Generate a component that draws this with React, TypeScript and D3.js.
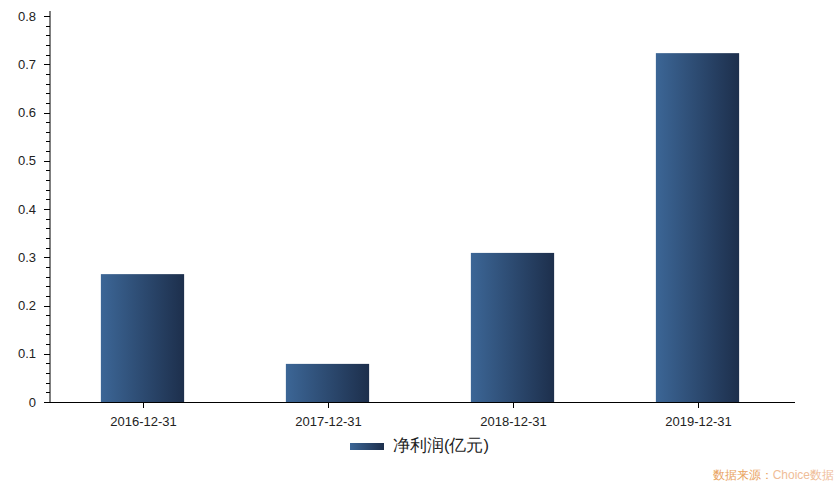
import React from "react";
import * as d3 from "d3";

const categories = ["2016-12-31", "2017-12-31", "2018-12-31", "2019-12-31"];
const netProfit = [0.265, 0.079, 0.309, 0.723];
const yTicks = [0, 0.1, 0.2, 0.3, 0.4, 0.5, 0.6, 0.7, 0.8];
const seriesName = "净利润(亿元)";
const sourceLabel = "数据来源：";
const sourceName = "Choice数据";

const W = 839;
const H = 482;
const left = 50;
const right = 790;
const top = 16;
const bottom = 402;

export default function App() {
  const x = d3.scaleBand<string>().domain(categories).range([left, right]).paddingInner(0).paddingOuter(0);
  const y = d3.scaleLinear().domain([0, 0.8]).range([bottom, top]);
  const barW = x.bandwidth() * 0.45;
  const minor = d3.range(0, 0.8 + 1e-9, 0.02).filter((v) => Math.abs(v * 10 - Math.round(v * 10)) > 1e-6);
  const font = "'Liberation Sans', Arial, sans-serif";

  return (
    <svg
      width={W}
      height={H}
      style={{ position: "absolute", left: 0, top: 0, background: "#fff" }}
      fontFamily={font}
    >
      <defs>
        <linearGradient id="barGrad" x1="0" x2="1" y1="0" y2="0">
          <stop offset="0%" stopColor="#3c6696" />
          <stop offset="100%" stopColor="#1d2f4c" />
        </linearGradient>
      </defs>
      <rect x={0} y={0} width={W} height={H} fill="#fff" />

      {netProfit.map((v, i) => {
        const cx = x(categories[i])! + x.bandwidth() / 2;
        return (
          <rect
            key={categories[i]}
            x={cx - barW / 2}
            y={y(v)}
            width={barW}
            height={y(0) - y(v)}
            fill="url(#barGrad)"
          />
        );
      })}

      {/* y axis */}
      <line x1={left} x2={left} y1={11} y2={bottom} stroke="#000" strokeWidth={1} />
      {minor.map((v) => (
        <line key={"m" + v} x1={left - 4} x2={left} y1={Math.round(y(v)) + 0.5} y2={Math.round(y(v)) + 0.5} stroke="#000" />
      ))}
      {yTicks.map((v) => (
        <g key={"t" + v}>
          <line x1={left - 6} x2={left} y1={Math.round(y(v)) + 0.5} y2={Math.round(y(v)) + 0.5} stroke="#000" />
          <text x={36} y={y(v)} dy="0.35em" textAnchor="end" fontSize={13} fill="#222">
            {d3.format("")(Number(v.toFixed(1)))}
          </text>
        </g>
      ))}

      {/* x axis */}
      <line x1={left} x2={795} y1={bottom + 0.5} y2={bottom + 0.5} stroke="#000" />
      {categories.map((c) => {
        const cx = Math.round(x(c)! + x.bandwidth() / 2) + 0.5;
        return (
          <g key={c}>
            <line x1={cx} x2={cx} y1={bottom} y2={bottom + 6} stroke="#000" />
            <text x={cx} y={426} textAnchor="middle" fontSize={13} fill="#222">
              {c}
            </text>
          </g>
        );
      })}

      {/* legend */}
      <rect x={350} y={443} width={34} height={7} fill="url(#barGrad)" />
      <text x={393} y={445} dy="0.35em" fontSize={16.5} fill="#222">
        {seriesName}
      </text>

      {/* source */}
      <text x={834} y={479} textAnchor="end" fontSize={12}>
        <tspan fill="#e9a35e">{sourceLabel}</tspan>
        <tspan fill="#efbd98">{sourceName}</tspan>
      </text>
    </svg>
  );
}
